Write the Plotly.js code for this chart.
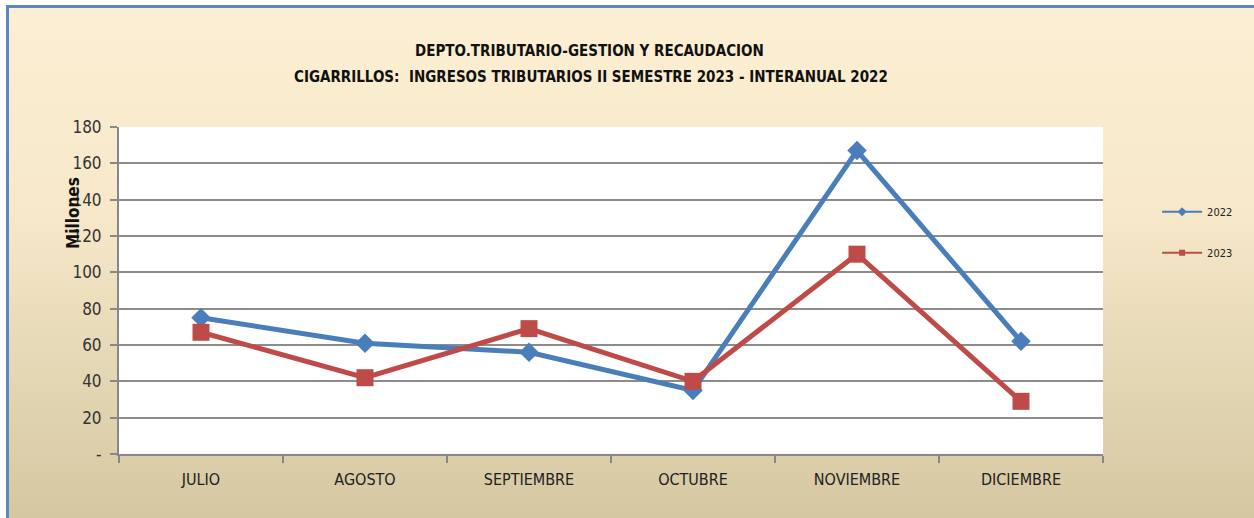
<!DOCTYPE html>
<html>
<head>
<meta charset="utf-8">
<script src="https://cdn.plot.ly/plotly-3.0.1.min.js"></script>
<style>
html,body{margin:0;padding:0;background:#ffffff;}
#wrap{position:relative;width:1254px;height:518px;overflow:hidden;background:#fff;}
#bg{position:absolute;left:6px;top:5px;width:1248px;height:513px;
 background:linear-gradient(to bottom,#fdefd3 0%,#f6e8c9 40%,#e2d5b2 75%,#d5c7a1 100%);
 border-top:3px solid #5b87c2;border-left:3px solid #5b87c2;box-sizing:border-box;}
#chart{position:absolute;left:0;top:0;width:1254px;height:518px;}
</style>
</head>
<body>
<div id="wrap"><div id="bg"></div><div id="chart"></div></div>
<script>
const categories = ["JULIO","AGOSTO","SEPTIEMBRE","OCTUBRE","NOVIEMBRE","DICIEMBRE"];
const values2022 = [75, 61, 56, 35, 167, 62];
const values2023 = [67, 42, 69, 40, 110, 29];
const seriesNames = ["2022","2023"];
const yTickVals = [0,20,40,60,80,100,120,140,160,180];
const yTickText = ["-","20","40","60","80","100","120","140","160","180"];
const titleLines = ["DEPTO.TRIBUTARIO-GESTION Y RECAUDACION","CIGARRILLOS:  INGRESOS TRIBUTARIOS II SEMESTRE 2023 - INTERANUAL 2022"];
const yAxisLabel = "Millones";

const narrow = "'Liberation Sans Narrow','Arial Narrow','DejaVu Sans Condensed',sans-serif";
const colors = ['#4a7ebb', '#be4b48'];

const traces = [
 {x: categories, y: values2022, name: seriesNames[0], type:'scatter', mode:'lines+markers',
  line:{color:colors[0], width:5}, marker:{symbol:'diamond', size:15, color:colors[0]},
  showlegend:false},
 {x: categories, y: values2023, name: seriesNames[1], type:'scatter', mode:'lines+markers',
  line:{color:colors[1], width:5}, marker:{symbol:'square', size:17, color:colors[1]},
  showlegend:false},
 {x:[categories[0]], y:[null], name: seriesNames[0], type:'scatter', mode:'lines+markers',
  line:{color:colors[0], width:2}, marker:{symbol:'diamond', size:7, color:colors[0]},
  legendgroup:'a', showlegend:true},
 {x:[categories[0]], y:[null], name: seriesNames[1], type:'scatter', mode:'lines+markers',
  line:{color:colors[1], width:2}, marker:{symbol:'square', size:6, color:colors[1]},
  legendgroup:'b', showlegend:true}
];

const layout = {
 width:1254, height:518,
 paper_bgcolor:'rgba(0,0,0,0)', plot_bgcolor:'#ffffff',
 margin:{l:119, r:151, t:127, b:64},
 font:{family:narrow, color:'#222'},
 xaxis:{type:'category', range:[-0.5,5.5], tickson:'boundaries', ticks:'outside', ticklen:7,
   tickcolor:'#888', tickwidth:2, showline:true, linecolor:'#888', linewidth:2,
   showgrid:false, tickfont:{size:16, family:narrow, color:'#222'}, zeroline:false,
   ticklabelstandoff:10},
 yaxis:{range:[0,180], tickvals:yTickVals, ticktext:yTickText, ticks:'outside', ticklen:7,
   tickcolor:'#888', tickwidth:2, showline:true, linecolor:'#888', linewidth:2,
   gridcolor:'#8c8c8c', gridwidth:2, zeroline:false, tickfont:{size:17, family:narrow, color:'#333'},
   ticklabelstandoff:5},
 showlegend:true,
 legend:{x:1.055, y:0.785, xanchor:'left', yanchor:'top', bgcolor:'rgba(0,0,0,0)',
   font:{size:11, family:narrow, color:'#222'}, traceorder:'grouped', tracegroupgap:22,
   itemwidth:40},
 annotations:[
  {xref:'paper', yref:'paper', x:(589-119)/984, y:(454-51)/327, xanchor:'center', yanchor:'middle', showarrow:false,
   text:'<b>'+titleLines[0]+'</b>', font:{size:15, family:narrow, color:'#111'}},
  {xref:'paper', yref:'paper', x:(591-119)/984, y:(454-77)/327, xanchor:'center', yanchor:'middle', showarrow:false,
   text:'<b>'+titleLines[1]+'</b>', font:{size:15, family:narrow, color:'#111'}},
  {xref:'paper', yref:'paper', x:(73-119)/984, y:(454-213)/327, xanchor:'center', yanchor:'middle', showarrow:false,
   textangle:-90, text:'<b>'+yAxisLabel+'</b>', font:{size:17, family:narrow, color:'#111'}}
 ]
};

Plotly.newPlot('chart', traces, layout, {displayModeBar:false, staticPlot:true});
</script>
</body>
</html>
